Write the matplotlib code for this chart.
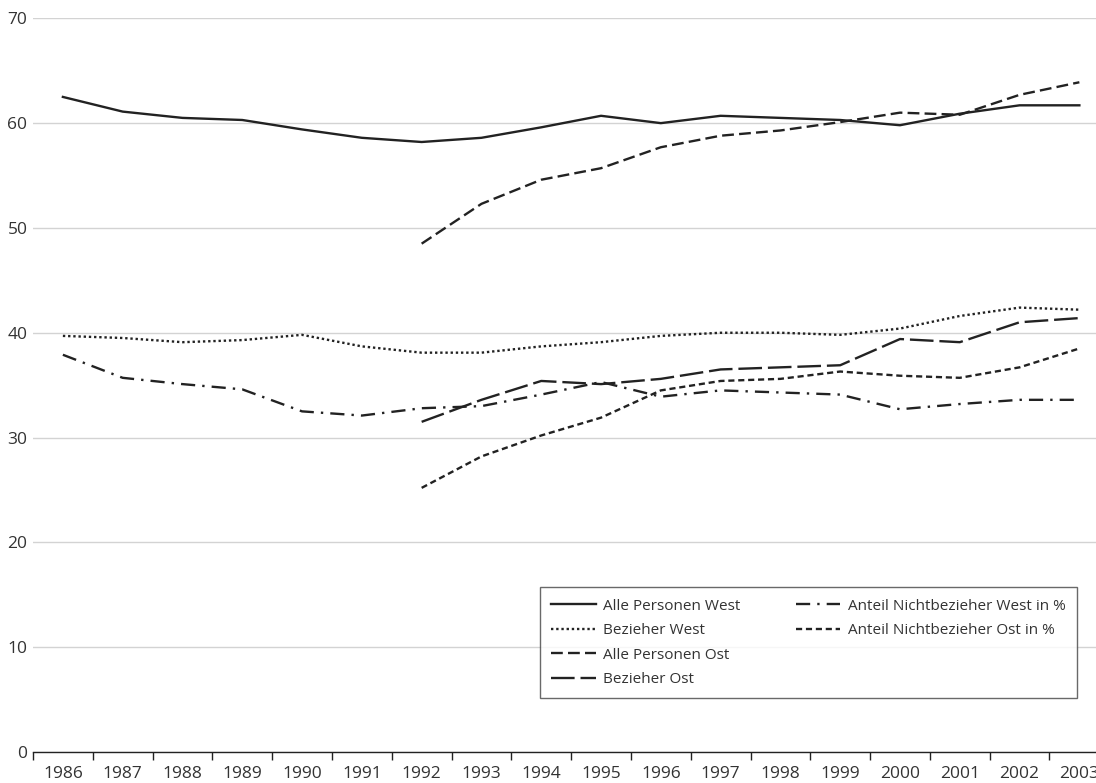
import numpy as np
import matplotlib.pyplot as plt
from matplotlib.lines import Line2D

plt.rcParams['font.family'] = ['Open Sans', 'DejaVu Sans']

jahre = list(range(1986, 2004))
jahre_ost = list(range(1992, 2004))

alle_west = [62.5, 61.1, 60.5, 60.3, 59.4, 58.6, 58.2, 58.6, 59.6, 60.7, 60.0, 60.7,
             60.5, 60.3, 59.8, 60.9, 61.7, 61.7]
bezieher_west = [39.7, 39.5, 39.1, 39.3, 39.8, 38.7, 38.1, 38.1, 38.7, 39.1, 39.7, 40.0,
                 40.0, 39.8, 40.4, 41.6, 42.4, 42.2]
alle_ost = [48.5, 52.3, 54.6, 55.7, 57.7, 58.8, 59.3, 60.1, 61.0, 60.8, 62.7, 63.9]
bezieher_ost = [31.5, 33.6, 35.4, 35.1, 35.6, 36.5, 36.7, 36.9, 39.4, 39.1, 41.0, 41.4]
nicht_west = [37.9, 35.7, 35.1, 34.6, 32.5, 32.1, 32.8, 33.0, 34.1, 35.3, 33.9, 34.5,
              34.3, 34.1, 32.7, 33.2, 33.6, 33.6]
nicht_ost = [25.2, 28.2, 30.2, 31.9, 34.5, 35.4, 35.6, 36.3, 35.9, 35.7, 36.7, 38.5]

ink = '#222222'
txt = '#333333'

fig = plt.figure(figsize=(10.96, 7.83), dpi=100)
ax = fig.add_axes([0.0301, 0.0396, 0.982, 0.937])

x_w = np.arange(len(jahre))
x_o = np.arange(len(jahre) - len(jahre_ost), len(jahre))
lw = 1.7

ax.plot(x_w, alle_west, color=ink, lw=lw, label='Alle Personen West')
ax.plot(x_w, bezieher_west, color=ink, lw=lw, linestyle=(0, (1, 1.2)), label='Bezieher West')
ax.plot(x_o, alle_ost, color=ink, lw=lw, linestyle=(0, (5, 2.2)), label='Alle Personen Ost')
ax.plot(x_o, bezieher_ost, color=ink, lw=lw, linestyle=(0, (10, 2.5)), label='Bezieher Ost')
ax.plot(x_w, nicht_west, color=ink, lw=lw, linestyle=(0, (6, 3, 1, 3)),
        label='Anteil Nichtbezieher West in %')
ax.plot(x_o, nicht_ost, color=ink, lw=lw, linestyle=(0, (2.6, 1.6)),
        label='Anteil Nichtbezieher Ost in %')

ax.set_xlim(-0.5, len(jahre) - 0.5)
ax.set_ylim(0, 70)
ax.set_yticks(range(0, 71, 10))
ax.yaxis.grid(True, color='#d3d3d3', lw=1)
ax.set_axisbelow(True)
ax.tick_params(axis='y', length=0, labelsize=12.5, labelcolor=txt, pad=4)

ax.set_xticks(np.arange(-0.5, len(jahre), 1))
ax.set_xticklabels([])
ax.set_xticks(x_w, minor=True)
ax.set_xticklabels([str(j) for j in jahre], minor=True)
ax.tick_params(axis='x', which='major', length=6, width=1, color=ink, direction='out')
ax.tick_params(axis='x', which='minor', length=0, labelsize=12.5, labelcolor=txt, pad=10)

for s in ['top', 'right', 'left']:
    ax.spines[s].set_visible(False)
ax.spines['bottom'].set_color(ink)
ax.spines['bottom'].set_linewidth(1)

# Legende: linke Spalte vier Eintraege, rechte Spalte zwei
handles, labels = ax.get_legend_handles_labels()
leer = Line2D([], [], color='none')
handles = handles + [leer, leer]
labels = labels + ['', '']
leg = fig.legend(handles, labels,
                 loc='lower left', bbox_to_anchor=(0.4927, 0.108), ncol=2,
                 fontsize=11, frameon=True, fancybox=False, handlelength=2.9,
                 handletextpad=0.5, columnspacing=3.6, labelspacing=0.62,
                 borderpad=0.75, edgecolor='#444444', borderaxespad=0)
leg.get_frame().set_linewidth(1)
for t in leg.get_texts():
    t.set_color(txt)

fig.savefig('out.png', dpi=100)
